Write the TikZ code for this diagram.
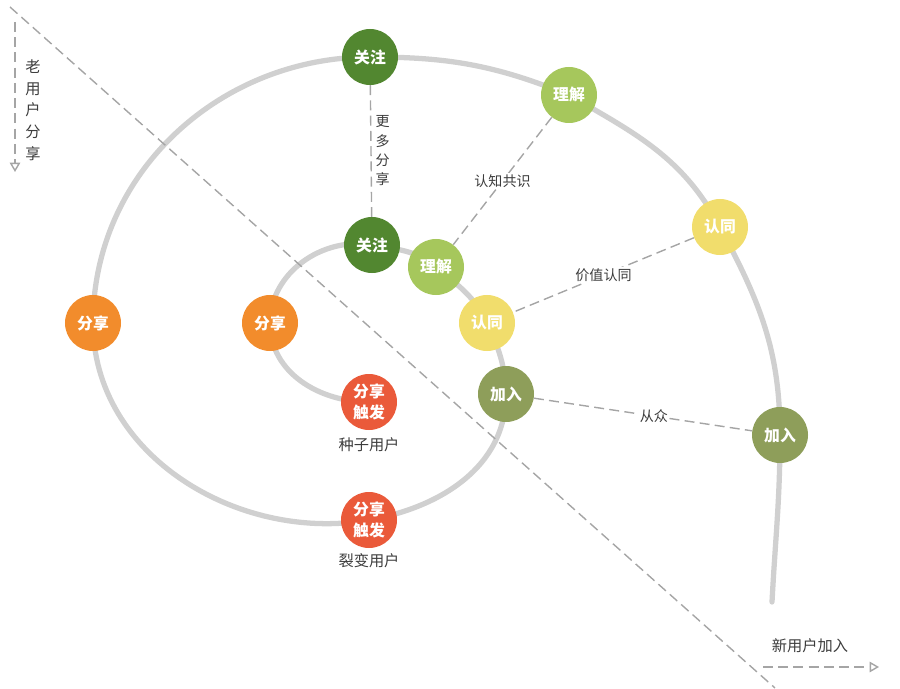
\documentclass[tikz,border=0pt]{standalone}
\usepackage{fontspec}
\setmainfont{Noto Sans CJK SC}
\usetikzlibrary{positioning,arrows.meta,backgrounds}
\definecolor{spFollow}{RGB}{82,135,48}
\definecolor{spGrasp}{RGB}{166,199,92}
\definecolor{spAgree}{RGB}{241,221,108}
\definecolor{spJoin}{RGB}{142,158,90}
\definecolor{spShare}{RGB}{242,140,44}
\definecolor{spTrigger}{RGB}{234,90,58}
\definecolor{spTrack}{RGB}{208,208,208}
\definecolor{spDash}{RGB}{165,165,165}
\definecolor{spText}{RGB}{60,60,60}
\tikzset{
    base/.style={font=\fontsize{13}{16}\selectfont, align=center, text=spText},
    stage/.style={base, circle, fill=#1, text=white, minimum size=1.68cm, inner sep=0pt,
                  font=\fontsize{13.5}{17.5}\selectfont\bfseries},
    track/.style={line width=4.5pt, color=spTrack, line cap=round},
    link/.style={draw=spDash, line width=1.2pt, dash pattern=on 8.5pt off 4.5pt},
    tag/.style={base, font=\fontsize{12}{16.5}\selectfont, fill=white, inner sep=1pt},
    flowarrow/.style={link, -{Triangle[open, length=8pt, width=9pt]}}
}

\begin{document}
\begin{tikzpicture}[x=0.03cm, y=0.03cm]
  \useasboundingbox (0,0) rectangle (900,688);
  % outer ring
  \node[stage=spFollow]  (jOut) at (370,631) {关注};
  \node[stage=spGrasp]   (lOut) at (569,593) {理解};
  \node[stage=spAgree]   (rOut) at (720,461) {认同};
  \node[stage=spJoin]    (aOut) at (780,253) {加入};
  \node[stage=spShare]   (sOut) at (93,365)  {分享};
  \node[stage=spTrigger] (tOut) at (369,168) {分享\\触发};
  % inner ring
  \node[stage=spFollow]  (jIn) at (372,443) {关注};
  \node[stage=spGrasp]   (lIn) at (436,421) {理解};
  \node[stage=spAgree]   (rIn) at (487,365) {认同};
  \node[stage=spJoin]    (aIn) at (506,294) {加入};
  \node[stage=spShare]   (sIn) at (270,365) {分享};
  \node[stage=spTrigger] (tIn) at (369,286) {分享\\触发};
  \node[base] (seed) [below=3pt of tIn] {种子用户};
  \node[base] (split) [below=1pt of tOut] {裂变用户};
  \coordinate (trackStart) at (772,86);

  \begin{scope}[on background layer]
    \draw[track] (trackStart) to[out=87,in=-90] (aOut.center)
      to[out=90,in=-62] (rOut.center) to[out=118,in=-30] (lOut.center)
      to[out=158,in=0] (jOut.center) to[out=180,in=90] (sOut.center)
      to[out=-90,in=190] (tOut.center) to[out=10,in=-90] (aIn.center)
      to[out=92,in=-65] (rIn.center) to[out=115,in=-40] (lIn.center)
      to[out=140,in=-10] (jIn.center) to[out=170,in=90] (sIn.center)
      to[out=-90,in=180] (tIn.center);
  \end{scope}

  % dashed links between rings
  \draw[link] (jOut) -- (jIn)
    node[midway, right=0pt, base, font=\fontsize{12}{16.5}\selectfont] {更\\多\\分\\享};
  \draw[link] (lOut) -- (lIn) node[pos=0.5, tag] {认知共识};
  \draw[link] (rOut) -- (rIn) node[pos=0.5, tag] {价值认同};
  \draw[link] (aIn) -- (aOut) node[pos=0.55, tag] {从众};

  % divider and arrows
  \coordinate (cutTop) at (10,681);
  \coordinate (cutEnd) at (775,0);
  \draw[link] (cutTop) -- (cutEnd);
  \coordinate (oldTop) at (15,666);
  \coordinate (oldEnd) at (15,516);
  \draw[flowarrow] (oldTop) -- (oldEnd);
  \node[base, font=\fontsize{13}{18.5}\selectfont] (oldLabel) at (33,578) {老\\用\\户\\分\\享};
  \coordinate (newTop) at (763,21);
  \coordinate (newEnd) at (879,21);
  \draw[flowarrow] (newTop) -- (newEnd);
  \node[base] (newLabel) at (810,42) {新用户加入};
\end{tikzpicture}
\end{document}
